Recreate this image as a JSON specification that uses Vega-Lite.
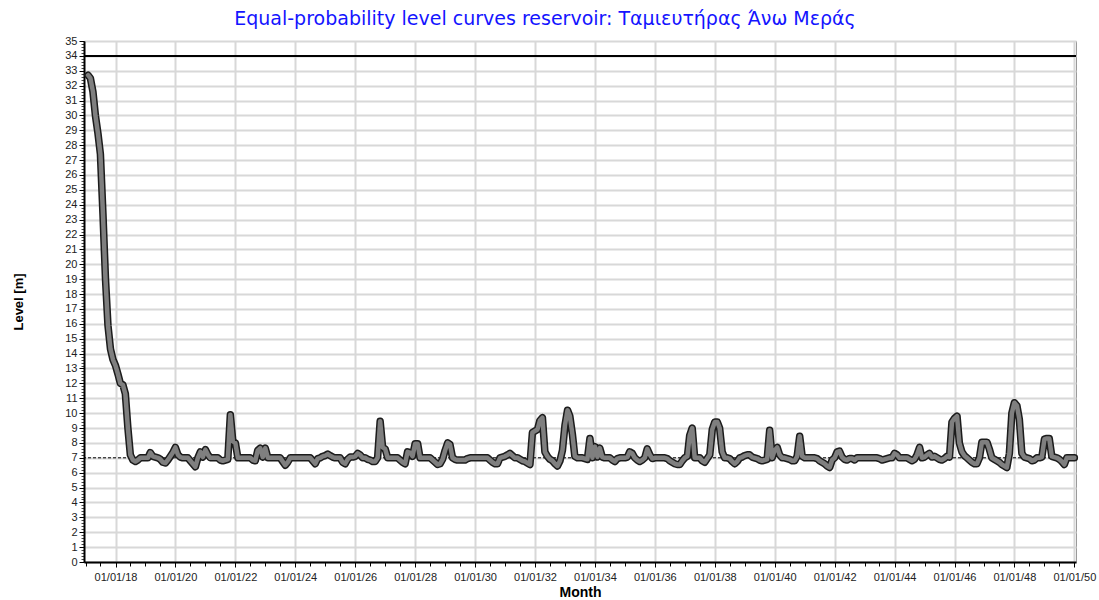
{
"$schema": "https://vega.github.io/schema/vega-lite/v6.json",
"width": 992, "height": 521,
"autosize": "none",
"padding": {"left": 84, "top": 41, "right": 23, "bottom": 38},
"background": "white",
"title": {"text": "Equal-probability level curves reservoir: Ταμιευτήρας Άνω Μεράς", "color": "#1414ff", "fontSize": 19, "font": "DejaVu Sans", "fontWeight": "normal", "anchor": "middle", "dx": -35, "offset": 6},
"config": {"view": {"stroke": "#9a9a9a", "strokeWidth": 1}, "font": "Liberation Sans"},
"data": {"values": [
{"d":"2017-02-01","v":32.7},{"d":"2017-03-01","v":32.5},{"d":"2017-04-01","v":31.6},{"d":"2017-05-01","v":30.0},{"d":"2017-06-01","v":28.8},{"d":"2017-07-01","v":27.4},{"d":"2017-08-01","v":23.4},{"d":"2017-09-01","v":19.0},{"d":"2017-10-01","v":15.9},{"d":"2017-11-01","v":14.3},{"d":"2017-12-01","v":13.6},
{"d":"2018-01-01","v":13.2},{"d":"2018-02-01","v":12.6},{"d":"2018-03-01","v":12.0},{"d":"2018-04-01","v":11.9},{"d":"2018-05-01","v":11.3},{"d":"2018-06-01","v":9.0},{"d":"2018-07-01","v":7.2},{"d":"2018-08-01","v":6.85},{"d":"2018-09-01","v":6.75},{"d":"2018-10-01","v":6.85},{"d":"2018-11-01","v":7.0},{"d":"2018-12-01","v":7.0},
{"d":"2019-01-01","v":7.0},{"d":"2019-02-01","v":7.0},{"d":"2019-03-01","v":7.35},{"d":"2019-04-01","v":7.1},{"d":"2019-05-01","v":7.05},{"d":"2019-06-01","v":7.0},{"d":"2019-07-01","v":6.9},{"d":"2019-08-01","v":6.7},{"d":"2019-09-01","v":6.65},{"d":"2019-10-01","v":6.85},{"d":"2019-11-01","v":7.1},{"d":"2019-12-01","v":7.35},
{"d":"2020-01-01","v":7.7},{"d":"2020-02-01","v":7.2},{"d":"2020-03-01","v":7.05},{"d":"2020-04-01","v":7.0},{"d":"2020-05-01","v":7.0},{"d":"2020-06-01","v":7.0},{"d":"2020-07-01","v":6.8},{"d":"2020-08-01","v":6.6},{"d":"2020-09-01","v":6.4},{"d":"2020-10-01","v":7.0},{"d":"2020-11-01","v":7.4},{"d":"2020-12-01","v":7.05},
{"d":"2021-01-01","v":7.55},{"d":"2021-02-01","v":7.2},{"d":"2021-03-01","v":7.0},{"d":"2021-04-01","v":7.0},{"d":"2021-05-01","v":7.0},{"d":"2021-06-01","v":7.0},{"d":"2021-07-01","v":6.85},{"d":"2021-08-01","v":6.8},{"d":"2021-09-01","v":6.85},{"d":"2021-10-01","v":6.9},{"d":"2021-11-01","v":9.9},{"d":"2021-12-01","v":8.1},
{"d":"2022-01-01","v":8.0},{"d":"2022-02-01","v":7.0},{"d":"2022-03-01","v":7.0},{"d":"2022-04-01","v":7.0},{"d":"2022-05-01","v":7.0},{"d":"2022-06-01","v":7.0},{"d":"2022-07-01","v":7.0},{"d":"2022-08-01","v":6.85},{"d":"2022-09-01","v":6.8},{"d":"2022-10-01","v":7.5},{"d":"2022-11-01","v":7.65},{"d":"2022-12-01","v":7.05},
{"d":"2023-01-01","v":7.65},{"d":"2023-02-01","v":7.0},{"d":"2023-03-01","v":7.0},{"d":"2023-04-01","v":7.0},{"d":"2023-05-01","v":7.0},{"d":"2023-06-01","v":7.0},{"d":"2023-07-01","v":7.0},{"d":"2023-08-01","v":6.75},{"d":"2023-09-01","v":6.5},{"d":"2023-10-01","v":6.7},{"d":"2023-11-01","v":7.0},{"d":"2023-12-01","v":7.0},
{"d":"2024-01-01","v":7.0},{"d":"2024-02-01","v":7.0},{"d":"2024-03-01","v":7.0},{"d":"2024-04-01","v":7.0},{"d":"2024-05-01","v":7.0},{"d":"2024-06-01","v":7.0},{"d":"2024-07-01","v":7.0},{"d":"2024-08-01","v":6.8},{"d":"2024-09-01","v":6.6},{"d":"2024-10-01","v":6.95},{"d":"2024-11-01","v":7.0},{"d":"2024-12-01","v":7.1},
{"d":"2025-01-01","v":7.15},{"d":"2025-02-01","v":7.25},{"d":"2025-03-01","v":7.15},{"d":"2025-04-01","v":7.05},{"d":"2025-05-01","v":7.0},{"d":"2025-06-01","v":7.0},{"d":"2025-07-01","v":7.0},{"d":"2025-08-01","v":6.7},{"d":"2025-09-01","v":6.6},{"d":"2025-10-01","v":6.9},{"d":"2025-11-01","v":7.05},{"d":"2025-12-01","v":7.05},
{"d":"2026-01-01","v":7.1},{"d":"2026-02-01","v":7.3},{"d":"2026-03-01","v":7.2},{"d":"2026-04-01","v":7.0},{"d":"2026-05-01","v":7.0},{"d":"2026-06-01","v":6.9},{"d":"2026-07-01","v":6.85},{"d":"2026-08-01","v":6.75},{"d":"2026-09-01","v":6.75},{"d":"2026-10-01","v":7.0},{"d":"2026-11-01","v":9.45},{"d":"2026-12-01","v":7.7},
{"d":"2027-01-01","v":7.6},{"d":"2027-02-01","v":7.0},{"d":"2027-03-01","v":7.0},{"d":"2027-04-01","v":7.0},{"d":"2027-05-01","v":7.0},{"d":"2027-06-01","v":7.0},{"d":"2027-07-01","v":6.85},{"d":"2027-08-01","v":6.7},{"d":"2027-09-01","v":6.6},{"d":"2027-10-01","v":7.4},{"d":"2027-11-01","v":7.35},{"d":"2027-12-01","v":7.1},
{"d":"2028-01-01","v":7.95},{"d":"2028-02-01","v":7.95},{"d":"2028-03-01","v":7.0},{"d":"2028-04-01","v":7.0},{"d":"2028-05-01","v":7.0},{"d":"2028-06-01","v":7.0},{"d":"2028-07-01","v":7.0},{"d":"2028-08-01","v":6.85},{"d":"2028-09-01","v":6.7},{"d":"2028-10-01","v":6.55},{"d":"2028-11-01","v":6.6},{"d":"2028-12-01","v":6.9},
{"d":"2029-01-01","v":7.5},{"d":"2029-02-01","v":8.0},{"d":"2029-03-01","v":7.9},{"d":"2029-04-01","v":7.0},{"d":"2029-05-01","v":6.9},{"d":"2029-06-01","v":6.85},{"d":"2029-07-01","v":6.85},{"d":"2029-08-01","v":6.85},{"d":"2029-09-01","v":6.85},{"d":"2029-10-01","v":6.95},{"d":"2029-11-01","v":7.0},{"d":"2029-12-01","v":7.0},
{"d":"2030-01-01","v":7.0},{"d":"2030-02-01","v":7.0},{"d":"2030-03-01","v":7.0},{"d":"2030-04-01","v":7.0},{"d":"2030-05-01","v":7.0},{"d":"2030-06-01","v":7.0},{"d":"2030-07-01","v":6.85},{"d":"2030-08-01","v":6.7},{"d":"2030-09-01","v":6.6},{"d":"2030-10-01","v":6.6},{"d":"2030-11-01","v":7.0},{"d":"2030-12-01","v":7.05},
{"d":"2031-01-01","v":7.1},{"d":"2031-02-01","v":7.2},{"d":"2031-03-01","v":7.3},{"d":"2031-04-01","v":7.15},{"d":"2031-05-01","v":7.0},{"d":"2031-06-01","v":7.0},{"d":"2031-07-01","v":6.9},{"d":"2031-08-01","v":6.8},{"d":"2031-09-01","v":6.75},{"d":"2031-10-01","v":6.65},{"d":"2031-11-01","v":6.55},{"d":"2031-12-01","v":8.7},
{"d":"2032-01-01","v":8.8},{"d":"2032-02-01","v":8.9},{"d":"2032-03-01","v":9.5},{"d":"2032-04-01","v":9.7},{"d":"2032-05-01","v":7.4},{"d":"2032-06-01","v":7.1},{"d":"2032-07-01","v":6.9},{"d":"2032-08-01","v":6.8},{"d":"2032-09-01","v":6.6},{"d":"2032-10-01","v":6.45},{"d":"2032-11-01","v":6.8},{"d":"2032-12-01","v":7.5},
{"d":"2033-01-01","v":9.2},{"d":"2033-02-01","v":10.2},{"d":"2033-03-01","v":9.8},{"d":"2033-04-01","v":8.6},{"d":"2033-05-01","v":7.1},{"d":"2033-06-01","v":7.0},{"d":"2033-07-01","v":7.0},{"d":"2033-08-01","v":7.0},{"d":"2033-09-01","v":6.95},{"d":"2033-10-01","v":6.9},{"d":"2033-11-01","v":8.3},{"d":"2033-12-01","v":7.0},
{"d":"2034-01-01","v":7.75},{"d":"2034-02-01","v":7.05},{"d":"2034-03-01","v":7.65},{"d":"2034-04-01","v":7.05},{"d":"2034-05-01","v":7.0},{"d":"2034-06-01","v":7.0},{"d":"2034-07-01","v":7.0},{"d":"2034-08-01","v":6.85},{"d":"2034-09-01","v":6.75},{"d":"2034-10-01","v":6.95},{"d":"2034-11-01","v":7.0},{"d":"2034-12-01","v":7.0},
{"d":"2035-01-01","v":7.0},{"d":"2035-02-01","v":7.05},{"d":"2035-03-01","v":7.4},{"d":"2035-04-01","v":7.3},{"d":"2035-05-01","v":7.0},{"d":"2035-06-01","v":6.85},{"d":"2035-07-01","v":6.75},{"d":"2035-08-01","v":6.85},{"d":"2035-09-01","v":7.0},{"d":"2035-10-01","v":7.6},{"d":"2035-11-01","v":7.2},{"d":"2035-12-01","v":6.95},
{"d":"2036-01-01","v":7.0},{"d":"2036-02-01","v":7.0},{"d":"2036-03-01","v":7.0},{"d":"2036-04-01","v":7.0},{"d":"2036-05-01","v":7.0},{"d":"2036-06-01","v":6.95},{"d":"2036-07-01","v":6.8},{"d":"2036-08-01","v":6.7},{"d":"2036-09-01","v":6.6},{"d":"2036-10-01","v":6.55},{"d":"2036-11-01","v":6.55},{"d":"2036-12-01","v":6.8},
{"d":"2037-01-01","v":7.0},{"d":"2037-02-01","v":7.1},{"d":"2037-03-01","v":8.5},{"d":"2037-04-01","v":9.0},{"d":"2037-05-01","v":7.0},{"d":"2037-06-01","v":7.0},{"d":"2037-07-01","v":7.0},{"d":"2037-08-01","v":6.8},{"d":"2037-09-01","v":6.7},{"d":"2037-10-01","v":6.95},{"d":"2037-11-01","v":7.2},{"d":"2037-12-01","v":8.9},
{"d":"2038-01-01","v":9.4},{"d":"2038-02-01","v":9.4},{"d":"2038-03-01","v":9.0},{"d":"2038-04-01","v":7.4},{"d":"2038-05-01","v":7.0},{"d":"2038-06-01","v":7.0},{"d":"2038-07-01","v":6.95},{"d":"2038-08-01","v":6.75},{"d":"2038-09-01","v":6.6},{"d":"2038-10-01","v":6.75},{"d":"2038-11-01","v":7.0},{"d":"2038-12-01","v":7.05},
{"d":"2039-01-01","v":7.15},{"d":"2039-02-01","v":7.2},{"d":"2039-03-01","v":7.2},{"d":"2039-04-01","v":7.05},{"d":"2039-05-01","v":7.0},{"d":"2039-06-01","v":6.95},{"d":"2039-07-01","v":6.85},{"d":"2039-08-01","v":6.8},{"d":"2039-09-01","v":6.85},{"d":"2039-10-01","v":6.9},{"d":"2039-11-01","v":8.85},{"d":"2039-12-01","v":7.0},
{"d":"2040-01-01","v":7.5},{"d":"2040-02-01","v":7.7},{"d":"2040-03-01","v":7.2},{"d":"2040-04-01","v":7.0},{"d":"2040-05-01","v":7.0},{"d":"2040-06-01","v":6.95},{"d":"2040-07-01","v":6.9},{"d":"2040-08-01","v":6.8},{"d":"2040-09-01","v":6.8},{"d":"2040-10-01","v":7.1},{"d":"2040-11-01","v":8.45},{"d":"2040-12-01","v":7.1},
{"d":"2041-01-01","v":7.0},{"d":"2041-02-01","v":7.0},{"d":"2041-03-01","v":7.0},{"d":"2041-04-01","v":7.0},{"d":"2041-05-01","v":7.0},{"d":"2041-06-01","v":6.95},{"d":"2041-07-01","v":6.8},{"d":"2041-08-01","v":6.7},{"d":"2041-09-01","v":6.6},{"d":"2041-10-01","v":6.45},{"d":"2041-11-01","v":6.35},{"d":"2041-12-01","v":6.85},
{"d":"2042-01-01","v":7.0},{"d":"2042-02-01","v":7.4},{"d":"2042-03-01","v":7.45},{"d":"2042-04-01","v":7.05},{"d":"2042-05-01","v":6.9},{"d":"2042-06-01","v":6.85},{"d":"2042-07-01","v":6.95},{"d":"2042-08-01","v":6.95},{"d":"2042-09-01","v":6.85},{"d":"2042-10-01","v":7.0},{"d":"2042-11-01","v":7.0},{"d":"2042-12-01","v":7.0},
{"d":"2043-01-01","v":7.0},{"d":"2043-02-01","v":7.0},{"d":"2043-03-01","v":7.0},{"d":"2043-04-01","v":7.0},{"d":"2043-05-01","v":7.0},{"d":"2043-06-01","v":7.0},{"d":"2043-07-01","v":6.95},{"d":"2043-08-01","v":6.85},{"d":"2043-09-01","v":6.9},{"d":"2043-10-01","v":6.95},{"d":"2043-11-01","v":7.0},{"d":"2043-12-01","v":7.0},
{"d":"2044-01-01","v":7.3},{"d":"2044-02-01","v":7.2},{"d":"2044-03-01","v":7.0},{"d":"2044-04-01","v":7.0},{"d":"2044-05-01","v":7.0},{"d":"2044-06-01","v":7.0},{"d":"2044-07-01","v":6.9},{"d":"2044-08-01","v":6.8},{"d":"2044-09-01","v":6.9},{"d":"2044-10-01","v":7.2},{"d":"2044-11-01","v":7.7},{"d":"2044-12-01","v":7.0},
{"d":"2045-01-01","v":7.05},{"d":"2045-02-01","v":7.2},{"d":"2045-03-01","v":7.3},{"d":"2045-04-01","v":7.05},{"d":"2045-05-01","v":7.1},{"d":"2045-06-01","v":7.0},{"d":"2045-07-01","v":6.9},{"d":"2045-08-01","v":6.85},{"d":"2045-09-01","v":6.95},{"d":"2045-10-01","v":7.1},{"d":"2045-11-01","v":7.05},{"d":"2045-12-01","v":9.4},
{"d":"2046-01-01","v":9.65},{"d":"2046-02-01","v":9.8},{"d":"2046-03-01","v":8.0},{"d":"2046-04-01","v":7.4},{"d":"2046-05-01","v":7.15},{"d":"2046-06-01","v":7.0},{"d":"2046-07-01","v":6.85},{"d":"2046-08-01","v":6.7},{"d":"2046-09-01","v":6.6},{"d":"2046-10-01","v":6.6},{"d":"2046-11-01","v":7.0},{"d":"2046-12-01","v":8.05},
{"d":"2047-01-01","v":8.05},{"d":"2047-02-01","v":8.05},{"d":"2047-03-01","v":7.6},{"d":"2047-04-01","v":7.0},{"d":"2047-05-01","v":6.9},{"d":"2047-06-01","v":6.8},{"d":"2047-07-01","v":6.7},{"d":"2047-08-01","v":6.55},{"d":"2047-09-01","v":6.45},{"d":"2047-10-01","v":6.35},{"d":"2047-11-01","v":7.3},{"d":"2047-12-01","v":10.0},
{"d":"2048-01-01","v":10.7},{"d":"2048-02-01","v":10.5},{"d":"2048-03-01","v":9.6},{"d":"2048-04-01","v":7.3},{"d":"2048-05-01","v":7.05},{"d":"2048-06-01","v":7.0},{"d":"2048-07-01","v":6.95},{"d":"2048-08-01","v":6.8},{"d":"2048-09-01","v":6.85},{"d":"2048-10-01","v":7.0},{"d":"2048-11-01","v":7.0},{"d":"2048-12-01","v":7.05},
{"d":"2049-01-01","v":8.25},{"d":"2049-02-01","v":8.3},{"d":"2049-03-01","v":8.3},{"d":"2049-04-01","v":7.1},{"d":"2049-05-01","v":7.05},{"d":"2049-06-01","v":7.0},{"d":"2049-07-01","v":6.9},{"d":"2049-08-01","v":6.75},{"d":"2049-09-01","v":6.55},{"d":"2049-10-01","v":7.0},{"d":"2049-11-01","v":7.0},{"d":"2049-12-01","v":7.0},
{"d":"2050-01-01","v":7.0}
]},
"layer": [
{"data": {"values": [{}]}, "mark": {"type": "rule", "color": "#000000", "strokeWidth": 2}, "encoding": {"y": {"datum": 34, "type": "quantitative", "scale": {"domain": [0, 35], "nice": false, "zero": false}, "axis": null}}},
{"data": {"values": [{}]}, "mark": {"type": "rule", "color": "#000000", "strokeWidth": 1, "strokeDash": [3, 2]}, "encoding": {"y": {"datum": 7, "type": "quantitative", "axis": null}}},
{"mark": {"type": "line", "color": "#1c1c1c", "strokeWidth": 7.5, "strokeJoin": "round", "strokeCap": "round"},
 "encoding": {
  "x": {"field": "d", "type": "temporal", "scale": {"type": "utc", "domain": [{"year": 2016, "month": 12, "date": 13, "utc": true}, {"year": 2050, "month": 1, "date": 21, "utc": true}]},
        "axis": {"orient": "bottom", "tickCount": {"interval": "month", "step": 6}, "labels": false, "grid": false, "domain": false, "ticks": true, "tickSize": 4, "tickColor": "#000000", "tickWidth": 1, "title": null}},
  "y": {"field": "v", "type": "quantitative", "scale": {"domain": [0, 35], "nice": false, "zero": false},
        "axis": {"orient": "left", "tickCount": 175, "labels": false, "grid": false, "domain": false, "ticks": true, "tickSize": 3, "tickColor": "#444444", "tickWidth": 1, "title": null}}
 }},
{"mark": {"type": "line", "color": "#7f7f7f", "strokeWidth": 4.5, "strokeJoin": "round", "strokeCap": "round"},
 "encoding": {
  "x": {"field": "d", "type": "temporal",
        "axis": {"orient": "bottom", "tickCount": {"interval": "year", "step": 2}, "format": "%d/%m/%y", "labelFontSize": 11, "labelColor": "#222222", "labelPadding": 4, "grid": true, "gridColor": "#d8d8d8", "gridWidth": 2, "domain": true, "domainColor": "#000000", "domainWidth": 2, "ticks": true, "tickSize": 5, "tickColor": "#000000", "title": "Month", "titleFontSize": 14, "titleFontWeight": "bold", "titleColor": "#000000", "titlePadding": 3, "labelFlush": false, "labelOverlap": false}},
  "y": {"field": "v", "type": "quantitative",
        "axis": {"orient": "left", "values": [0,1,2,3,4,5,6,7,8,9,10,11,12,13,14,15,16,17,18,19,20,21,22,23,24,25,26,27,28,29,30,31,32,33,34,35], "labelFontSize": 11, "labelColor": "#222222", "labelPadding": 2, "grid": true, "gridColor": "#d8d8d8", "gridWidth": 2, "domain": true, "domainColor": "#000000", "domainWidth": 2, "ticks": true, "tickSize": 5, "tickColor": "#000000", "title": "Level [m]", "titleFontSize": 13, "titleFontWeight": "bold", "titleColor": "#000000", "titlePadding": 39, "labelFlush": false, "labelOverlap": false}}
 }}
],
"resolve": {"axis": {"x": "independent", "y": "independent"}}
}
